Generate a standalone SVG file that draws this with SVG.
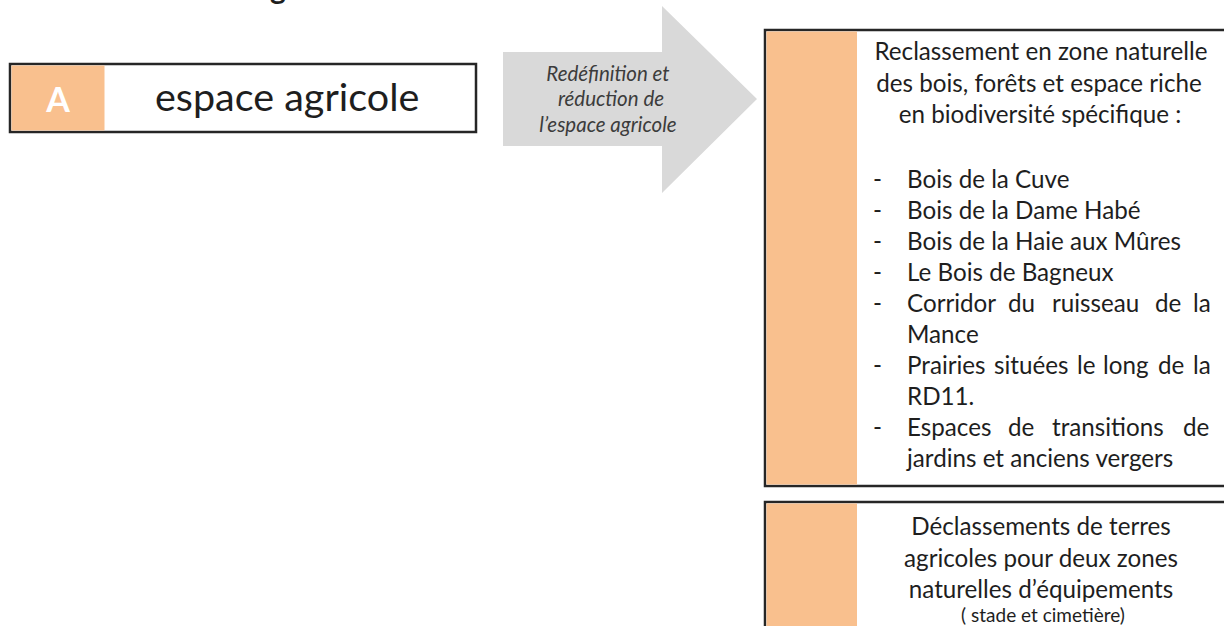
<svg xmlns="http://www.w3.org/2000/svg" width="1224" height="626" viewBox="0 0 1224 626">
  <style>
    .frame { fill: #ffffff; stroke: #262626; stroke-width: 2.5; }
    .band { fill: #f9c08e; }
    .txt { font-family: Lato, "Open Sans", sans-serif; fill: #1e1e1e; }
    .body { font-size: 24.2px; }
    .mid { text-anchor: middle; }
    .arrowtxt { font-family: Lato, "Open Sans", sans-serif; font-style: italic; font-size: 20.5px; fill: #3c3c3c; text-anchor: middle; }
  </style>

  <rect x="0" y="0" width="1224" height="626" fill="#ffffff"/>

  <!-- clipped heading above the page -->
  <text class="txt" x="270" y="-1" font-size="30" font-weight="bold">g</text>

  <!-- source box -->
  <g id="node-a">
    <rect class="frame" x="10" y="64" width="466" height="68"/>
    <rect class="band" x="11.5" y="65.5" width="93" height="65"/>
    <text class="txt mid" x="58" y="112" font-size="34" font-weight="bold" style="fill:#ffffff">A</text>
    <text class="txt" x="155" y="111" font-size="39.5">espace agricole</text>
  </g>

  <!-- transition arrow -->
  <g id="connectors">
    <polygon points="503,52 662,52 662,6 757,99 662,193 662,146 503,146" fill="#d9d9d9"/>
    <text class="arrowtxt" x="608" y="81">Redéfinition et</text>
    <text class="arrowtxt" x="611" y="106">réduction de</text>
    <text class="arrowtxt" x="608" y="132">l’espace agricole</text>
  </g>

  <!-- first outcome box -->
  <g id="node-reclassement">
    <rect class="frame" x="765" y="30" width="470" height="456"/>
    <rect class="band" x="766.5" y="31.5" width="90.5" height="453"/>
    <text class="txt body mid" x="1041" y="60">Reclassement en zone naturelle</text>
    <text class="txt body mid" x="1039" y="92">des bois, forêts et espace riche</text>
    <text class="txt body mid" x="1040" y="123">en biodiversité spécifique :</text>

    <g class="txt body">
      <text x="873" y="188">-</text><text x="907" y="188">Bois de la Cuve</text>
      <text x="873" y="219">-</text><text x="907" y="219">Bois de la Dame Habé</text>
      <text x="873" y="250">-</text><text x="907" y="250">Bois de la Haie aux Mûres</text>
      <text x="873" y="281">-</text><text x="907" y="281">Le Bois de Bagneux</text>
      <text x="873" y="312">-</text>
      <text y="312"><tspan x="907">Corridor</tspan><tspan x="1008">du</tspan><tspan x="1052">ruisseau</tspan><tspan x="1155">de</tspan><tspan x="1193">la</tspan></text>
      <text x="907" y="343">Mance</text>
      <text x="873" y="374">-</text>
      <text y="374"><tspan x="907">Prairies</tspan><tspan x="994">situées</tspan><tspan x="1077">le</tspan><tspan x="1103">long</tspan><tspan x="1158">de</tspan><tspan x="1193">la</tspan></text>
      <text x="907" y="405">RD11.</text>
      <text x="873" y="436">-</text>
      <text y="436"><tspan x="907">Espaces</tspan><tspan x="1008">de</tspan><tspan x="1052">transitions</tspan><tspan x="1183">de</tspan></text>
      <text x="907" y="467">jardins et anciens vergers</text>
    </g>
  </g>

  <!-- second outcome box -->
  <g id="node-declassement">
    <rect class="frame" x="765" y="502" width="470" height="140"/>
    <rect class="band" x="766.5" y="503.5" width="90.5" height="130"/>
    <text class="txt body mid" x="1041" y="535">Déclassements de terres</text>
    <text class="txt body mid" x="1041" y="567">agricoles pour deux zones</text>
    <text class="txt body mid" x="1041" y="598">naturelles d’équipements</text>
    <text class="txt mid" x="1043" y="622" font-size="19">( stade et cimetière)</text>
  </g>
</svg>
